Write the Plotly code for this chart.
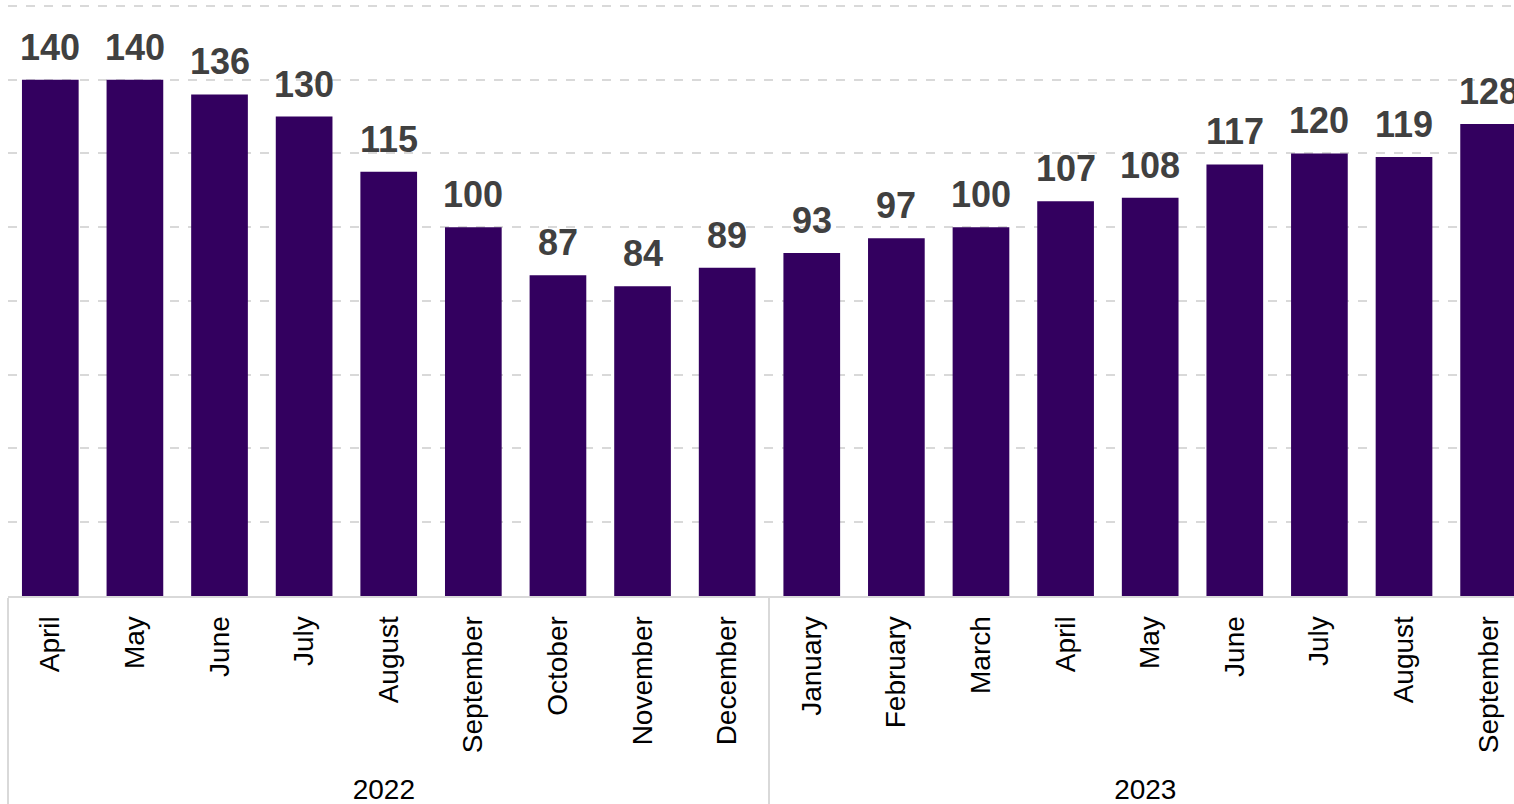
import plotly.graph_objects as go

years = ["2022"] * 9 + ["2023"] * 9
months = ["April", "May", "June", "July", "August", "September", "October", "November", "December",
          "January", "February", "March", "April", "May", "June", "July", "August", "September"]
values = [140, 140, 136, 130, 115, 100, 87, 84, 89, 93, 97, 100, 107, 108, 117, 120, 119, 128]

BAR = "#33005f"
GRID = "#d9d9d9"
TXT = "#404040"
FONT = "Liberation Sans, Arial, sans-serif"

# make repeated month names unique (zero-width space) so the trace order is kept
seen = {}
month_keys = []
for m in months:
    seen[m] = seen.get(m, 0) + 1
    month_keys.append(m + "\u200b" * (seen[m] - 1))

fig = go.Figure()
fig.add_trace(go.Bar(
    x=[years, month_keys], y=values,
    marker=dict(color=BAR, line=dict(width=0)),
    width=0.67,
    hoverinfo="skip",
))

for i, v in enumerate(values):
    fig.add_annotation(x=i, y=v, text="<b>%d</b>" % v, showarrow=False, yanchor="bottom",
                       yshift=10, font=dict(family=FONT, size=36, color=TXT),
                       xref="x", yref="y")

fig.update_layout(
    width=1514, height=804,
    margin=dict(l=8, r=0, t=0, b=205),
    paper_bgcolor="white", plot_bgcolor="white",
    showlegend=False,
    font=dict(family=FONT, color="black", size=28),
)
fig.update_xaxes(
    type="multicategory",
    range=[-0.5, 17.3],
    tickangle=-90,
    showline=True, linecolor=GRID, linewidth=2,
    showdividers=True, dividercolor=GRID, dividerwidth=2,
    tickfont=dict(family=FONT, size=28, color="black"),
    ticks="",
    ticklabelstandoff=7,
    showgrid=False,
)
fig.update_yaxes(
    range=[0, 161.6],
    dtick=20,
    showgrid=True, gridcolor=GRID, gridwidth=2, griddash="dash",
    showticklabels=False, zeroline=False, showline=False,
)
fig.write_html("out.html")
